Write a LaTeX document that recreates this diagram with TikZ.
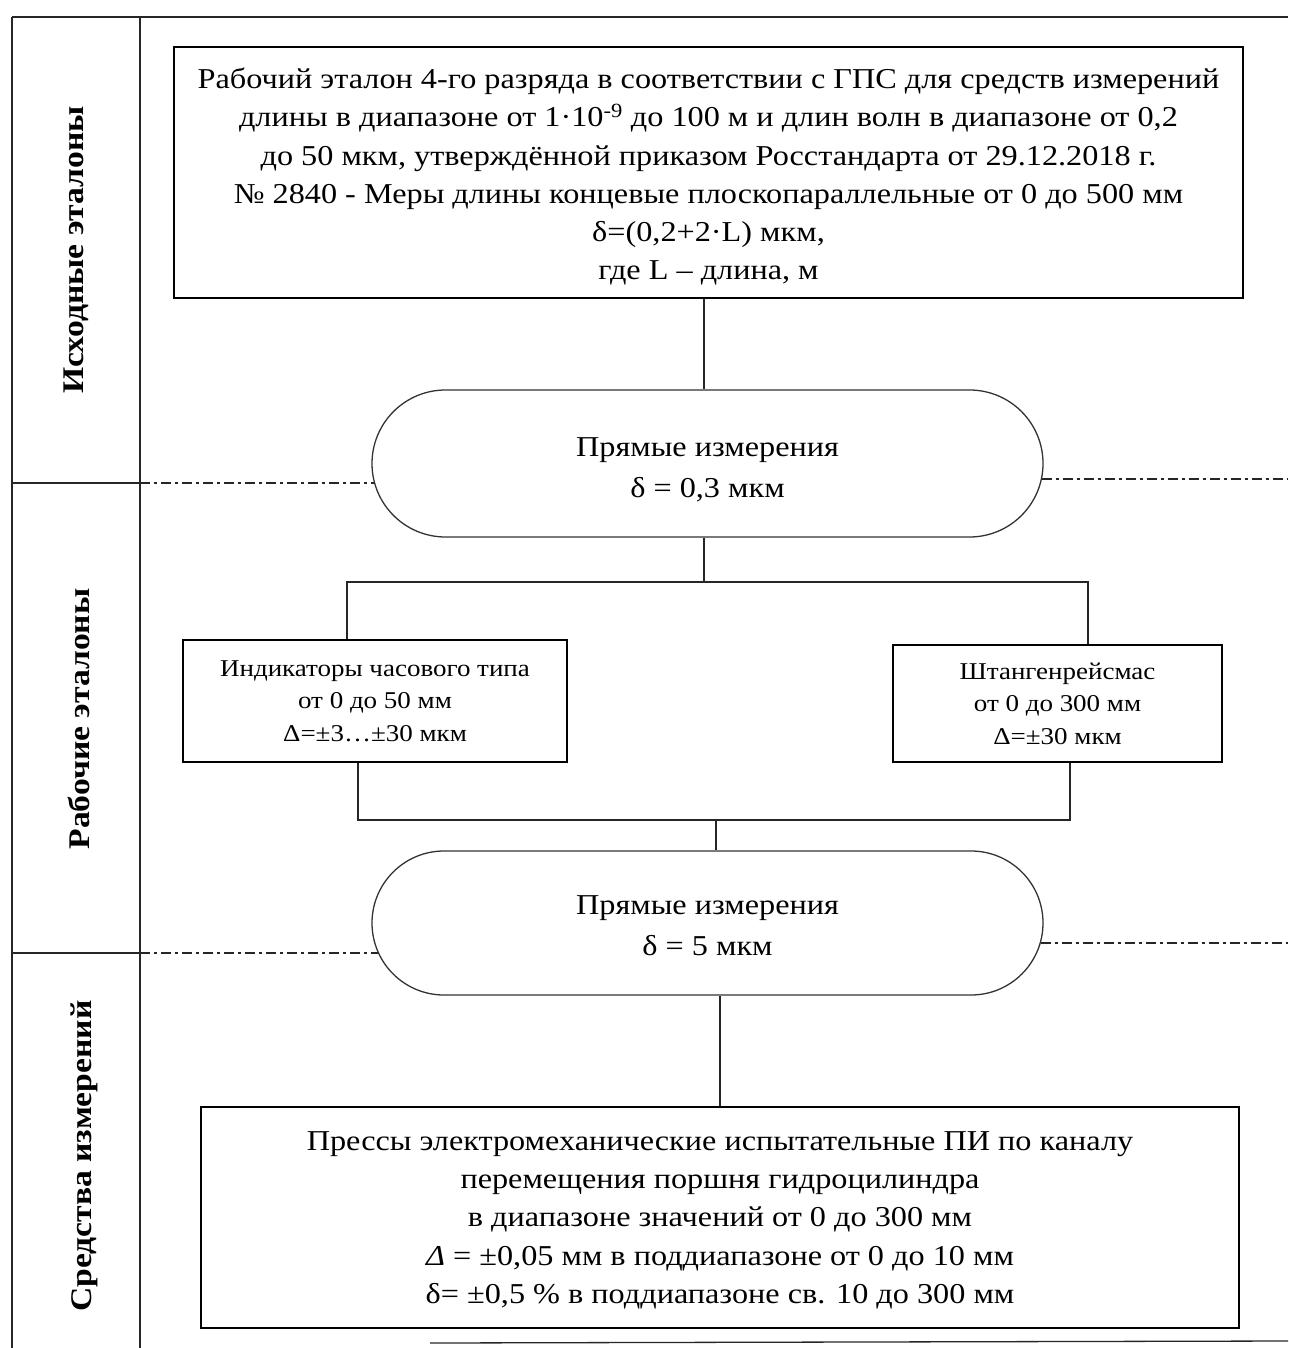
\documentclass[tikz,border=0pt]{standalone}
\usepackage{fontspec}
\setmainfont[FakeStretch=1.12]{Liberation Serif}
\usetikzlibrary{shapes.misc}
\tikzset{
  frameline/.style={line width=1.3pt, draw=black!85},
  boxstyle/.style={draw=black, line width=2pt, rectangle, align=center, inner sep=0pt},
  pill/.style={draw=black!80, line width=1.3pt, rounded rectangle, rounded rectangle arc length=180, align=center, inner sep=0pt},
  conn/.style={line width=1.4pt, draw=black!85},
  dashdot/.style={line width=1.5pt, draw=black!85, dash pattern=on 10pt off 4pt on 3pt off 4pt},
  sidelabel/.style={rotate=90, font=\fontsize{30}{34}\selectfont\bfseries, inner sep=0pt},
  bigtext/.style={font=\fontsize{28.8}{38.3}\selectfont},
  midtext/.style={font=\fontsize{28.8}{41}\selectfont},
  smalltext/.style={font=\fontsize{24.1}{32.5}\selectfont}
}
\begin{document}
\begin{tikzpicture}[x=1pt,y=-1pt]
\useasboundingbox (0,0) rectangle (1288,1348);
% frame
\draw[frameline] (12,17) -- (1288,17);
\draw[frameline] (12,17) -- (12,1348);
\draw[frameline] (140,17) -- (140,1348);
\draw[frameline] (12,483) -- (140,483);
\draw[frameline] (12,953) -- (140,953);
\draw[frameline] (430,1343) -- (1288,1341);
% side labels
\node[sidelabel] (lab1) at (76,250) {Исходные эталоны};
\node[sidelabel] (lab2) at (79,719) {Рабочие эталоны};
\node[sidelabel] (lab3) at (84,1156) {Средства измерений};
% boxes
\node[boxstyle, bigtext, minimum width=1069pt, minimum height=251pt] (box1) at (708.5,172.5)
 {\rule{0pt}{29pt}Рабочий эталон 4-го разряда в соответствии с ГПС для средств измерений\\
  длины в диапазоне от 1·10\textsuperscript{-9} до 100 м и длин волн в диапазоне от 0,2\\
  до 50 мкм, утверждённой приказом Росстандарта от 29.12.2018 г.\\
  № 2840 - Меры длины концевые плоскопараллельные от 0 до 500 мм\\
  δ=(0,2+2·L) мкм,\\
  где L – длина, м};
\node[pill, midtext, minimum width=671pt, minimum height=147pt] (st1) at (707.5,463.5)
 {\rule{0pt}{31pt}Прямые измерения\\ δ = 0,3 мкм};
\node[boxstyle, smalltext, line width=1.6pt, minimum width=384pt, minimum height=122pt] (ind) at (375,701)
 {Индикаторы часового типа\\ от 0 до 50 мм\\ Δ=±3…±30 мкм};
\node[boxstyle, smalltext, line width=1.6pt, minimum width=329pt, minimum height=117pt] (sht) at (1057.5,703.5)
 {Штангенрейсмас\\ от 0 до 300 мм\\ Δ=±30 мкм};
\node[pill, midtext, minimum width=671pt, minimum height=144pt] (st2) at (707.5,923)
 {\rule{0pt}{24pt}Прямые измерения\\ δ = 5 мкм};
\node[boxstyle, bigtext, minimum width=1038pt, minimum height=221pt] (box3) at (720,1217.5)
 {\rule{0pt}{24pt}Прессы электромеханические испытательные ПИ по каналу\\
  перемещения поршня гидроцилиндра\\
  в диапазоне значений от 0 до 300 мм\\
  \textit{Δ} = ±0,05 мм в поддиапазоне от 0 до 10 мм\\
  δ= ±0,5 \% в поддиапазоне св. 10 до 300 мм};
% connectors
\coordinate (t1) at (704,298);
\draw[conn] (box1.south -| t1) -- (st1.north -| t1);
\coordinate (j1) at (704,582);
\coordinate (jl) at (347,582);
\coordinate (jr) at (1088,582);
\draw[conn] (st1.south -| j1) -- (j1);
\draw[conn] (jl |- ind.north) -- (jl) -- (jr) -- (jr |- sht.north);
\coordinate (bl) at (358,820);
\coordinate (br) at (1070,820);
\coordinate (bm) at (716,820);
\draw[conn] (bl |- ind.south) -- (bl) -- (br) -- (br |- sht.south);
\draw[conn] (bm) -- (st2.north -| bm);
\coordinate (t3) at (720,995);
\draw[conn] (st2.south -| t3) -- (box3.north -| t3);
% dash-dot lines
\coordinate (dl1) at (140,483);
\coordinate (dr1) at (1288,479);
\coordinate (dl2) at (140,953);
\coordinate (dr2) at (1288,943);
\draw[dashdot] (dl1) -- ([xshift=3pt]st1.west |- dl1);
\draw[dashdot] ([xshift=-2pt]st1.east |- dr1) -- (dr1);
\draw[dashdot] (dl2) -- ([xshift=6.5pt]st2.west |- dl2);
\draw[dashdot] ([xshift=-3pt]st2.east |- dr2) -- (dr2);
\end{tikzpicture}
\end{document}
